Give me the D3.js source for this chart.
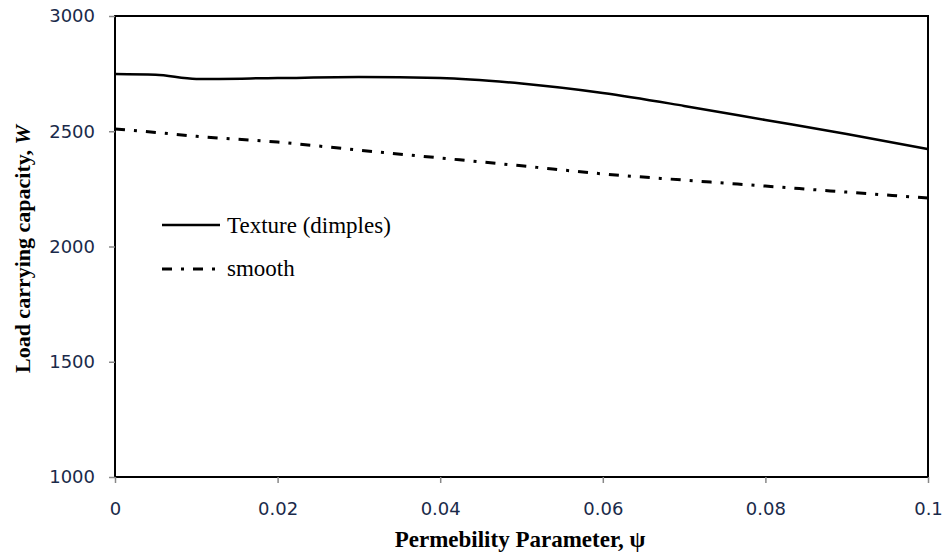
<!DOCTYPE html>
<html>
<head>
<meta charset="utf-8">
<script src="https://cdn.jsdelivr.net/npm/d3@7"></script>
<style>
  body { margin: 0; background: #fff; }
  svg { display: block; }
</style>
</head>
<body>
<svg width="943" height="552"></svg>
<script>
'use strict';

// values
var psi = [0, 0.005, 0.01, 0.02, 0.03, 0.04, 0.05, 0.06, 0.07, 0.08, 0.09, 0.1];
var textureW = [2748, 2745, 2727, 2731, 2735, 2731, 2707, 2666, 2610, 2549, 2488, 2423];
var smoothW = [2510, 2495, 2478, 2453, 2418, 2384, 2350, 2315, 2288, 2262, 2236, 2210];
var xTicks = [0, 0.02, 0.04, 0.06, 0.08, 0.1];
var yTicks = [1000, 1500, 2000, 2500, 3000];

var plot = { left: 115, right: 928, top: 16, bottom: 477 };
var serif = '"Liberation Serif", "Times New Roman", serif';

var svg = d3.select('svg');

var x = d3.scaleLinear().domain([0, 0.1]).range([plot.left, plot.right]);
var y = d3.scaleLinear().domain([1000, 3000]).range([plot.bottom, plot.top]);

// frame
svg.append('rect')
  .attr('x', plot.left).attr('y', plot.top)
  .attr('width', plot.right - plot.left).attr('height', plot.bottom - plot.top)
  .attr('fill', 'none').attr('stroke', '#000').attr('stroke-width', 2);

// axes
var xAxis = svg.append('g')
  .attr('transform', 'translate(0,' + plot.bottom + ')')
  .call(d3.axisBottom(x).tickValues(xTicks).tickSize(6).tickPadding(19)
    .tickFormat(d => String(+d.toFixed(2))));
var yAxis = svg.append('g')
  .attr('transform', 'translate(' + plot.left + ',0)')
  .call(d3.axisLeft(y).tickValues(yTicks).tickSize(6).tickPadding(14)
    .tickFormat(d3.format('d')));

[xAxis, yAxis].forEach(function (g) {
  g.select('.domain').remove();
  g.selectAll('.tick line').attr('stroke', '#888').attr('stroke-width', 1.5);
  g.selectAll('.tick text')
    .attr('fill', '#1a2a4a')
    .style('font-family', '"DejaVu Sans", sans-serif')
    .style('font-size', '18px');
});

var line = d3.line()
  .x(d => x(d[0]))
  .y(d => y(d[1]))
  .curve(d3.curveMonotoneX);

svg.append('path')
  .datum(psi.map((p, i) => [p, textureW[i]]))
  .attr('d', line)
  .attr('fill', 'none')
  .attr('stroke', '#000')
  .attr('stroke-width', 2.5);

svg.append('path')
  .datum(psi.map((p, i) => [p, smoothW[i]]))
  .attr('d', line)
  .attr('fill', 'none')
  .attr('stroke', '#000')
  .attr('stroke-width', 3)
  .attr('stroke-dasharray', '10,9,3,9');

// legend
var legend = svg.append('g')
  .style('font-family', serif)
  .style('font-size', '23px');

legend.append('line')
  .attr('x1', 162).attr('x2', 220).attr('y1', 225).attr('y2', 225)
  .attr('stroke', '#000').attr('stroke-width', 2.5);
legend.append('text').attr('x', 227).attr('y', 233).text('Texture (dimples)');

legend.append('line')
  .attr('x1', 162).attr('x2', 220).attr('y1', 269).attr('y2', 269)
  .attr('stroke', '#000').attr('stroke-width', 3)
  .attr('stroke-dasharray', '10,9,3,9');
legend.append('text').attr('x', 227).attr('y', 276).text('smooth');

// axis titles
svg.append('text')
  .attr('x', 520).attr('y', 547)
  .attr('text-anchor', 'middle')
  .style('font-family', serif)
  .style('font-size', '23px')
  .style('font-weight', 'bold')
  .text('Permebility Parameter, ψ');

var yt = svg.append('text')
  .attr('transform', 'translate(30,249) rotate(-90)')
  .attr('text-anchor', 'middle')
  .style('font-family', serif)
  .style('font-size', '22px')
  .style('font-weight', 'bold');
yt.append('tspan').text('Load carrying capacity, ');
yt.append('tspan').style('font-style', 'italic').text('W');
</script>
</body>
</html>
